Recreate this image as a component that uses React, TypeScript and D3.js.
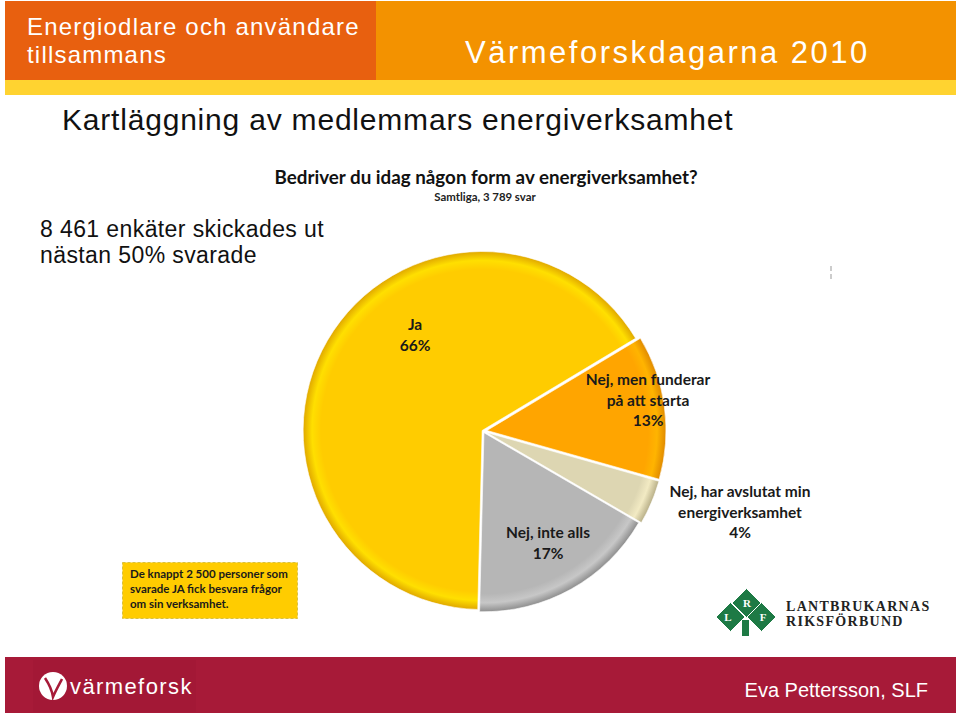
import React from "react";
import * as d3 from "d3";

const categories = ["Ja", "Nej, men funderar på att starta", "Nej, har avslutat min energiverksamhet", "Nej, inte alls"];
const values = [66, 13, 4, 17];
const labelLines = [["Ja", "66%"], ["Nej, men funderar", "på att starta", "13%"], ["Nej, har avslutat min", "energiverksamhet", "4%"], ["Nej, inte alls", "17%"]];
const sliceColors = ["#FFCC00", "#FFA500", "#DDD6B2", "#B6B6B6"];
const rimColors = ["#E0A800", "#E08A00", "#B8AF88", "#8E8E8E"];

const W = 960, H = 716;
const cx = 483, cy = 431, R = 179;
const explode = [1, 4, 4, 2];
const labelOffsets: [number, number][] = [[-68, -101], [165, -46], [257, 66], [65, 107]];

export default function App() {
  const pie = d3.pie<number>().sort(null).startAngle((-178.6 * Math.PI) / 180).endAngle((181.4 * Math.PI) / 180);
  const arcs = pie(values);
  const arc = d3.arc<d3.PieArcDatum<number>>().innerRadius(0).outerRadius(R);
  const calibri = "Lato, 'Open Sans', sans-serif";
  const arial = "'Liberation Sans', Arial, sans-serif";
  const serif = "'Liberation Serif', serif";
  const diamond = (x: number, y: number, h: number) => `M${x},${y - h} L${x + h},${y} L${x},${y + h} L${x - h},${y} Z`;
  return (
    <svg width={W} height={H} viewBox={`0 0 ${W} ${H}`} style={{ position: "absolute", left: 0, top: 0, background: "#fff" }}>
      <defs>
        {sliceColors.map((c, i) => (
          <radialGradient key={i} id={`g${i}`} gradientUnits="userSpaceOnUse" cx={0} cy={0} r={R}>
            <stop offset="0" stopColor={c} />
            <stop offset="0.9" stopColor={c} />
            <stop offset="0.95" stopColor={d3.color(c)!.brighter(0.25).toString()} />
            <stop offset="1" stopColor={rimColors[i]} />
          </radialGradient>
        ))}
      </defs>
      {/* header */}
      <rect x={5} y={1} width={371} height={79} fill="#E8600F" />
      <rect x={376} y={1} width={580} height={79} fill="#F39200" />
      <rect x={5} y={80} width={951} height={15} fill="#FFD330" />
      <text x={27} y={35} fill="#fff" fontFamily={arial} fontSize={24} letterSpacing={1.2}>Energiodlare och användare</text>
      <text x={27} y={63} fill="#fff" fontFamily={arial} fontSize={24} letterSpacing={1.2}>tillsammans</text>
      <text x={465} y={63} fill="#fff" fontFamily={arial} fontSize={31} letterSpacing={2.5}>Värmeforskdagarna 2010</text>
      {/* titles */}
      <text x={62} y={130} fill="#111" fontFamily={arial} fontSize={30} letterSpacing={0.8}>Kartläggning av medlemmars energiverksamhet</text>
      <text x={40} y={237} fill="#111" fontFamily={arial} fontSize={23} letterSpacing={0.4}>8 461 enkäter skickades ut</text>
      <text x={40} y={263} fill="#111" fontFamily={arial} fontSize={23} letterSpacing={0.4}>nästan 50% svarade</text>
      <text x={486} y={184} textAnchor="middle" fill="#111" fontFamily={calibri} fontWeight={700} fontSize={18.8}>Bedriver du idag någon form av energiverksamhet?</text>
      <text x={485} y={201} textAnchor="middle" fill="#222" fontFamily={calibri} fontWeight={700} fontSize={11.4}>Samtliga, 3 789 svar</text>
      {/* tiny artefact marks */}
      <line x1={831} y1={266} x2={831} y2={271} stroke="#999" strokeWidth={1} />
      <line x1={831} y1={274} x2={831} y2={279} stroke="#999" strokeWidth={1} />
      {/* pie */}
      <g transform={`translate(${cx},${cy})`}>
        {arcs.map((a, i) => {
          const mid = (a.startAngle + a.endAngle) / 2;
          const dx = Math.sin(mid) * explode[i];
          const dy = -Math.cos(mid) * explode[i];
          return (
            <path key={categories[i]} d={arc(a) || ""} transform={`translate(${dx},${dy})`} fill={`url(#g${i})`} stroke="#ffffff" strokeOpacity={0.6} strokeWidth={1} />
          );
        })}
        {labelLines.map((lines, i) => (
          <text key={i} textAnchor="middle" fontFamily={calibri} fontWeight={700} fontSize={15.5} fill="#1a1a1a">
            {lines.map((l, j) => (
              <tspan key={j} x={labelOffsets[i][0]} y={labelOffsets[i][1] + j * 20.5}>{l}</tspan>
            ))}
          </text>
        ))}
      </g>
      {/* note box */}
      <rect x={122.5} y={562.5} width={175} height={56} fill="#FFCC00" stroke="#D8C040" strokeWidth={1} strokeDasharray="3 2" />
      <text fontFamily={calibri} fontWeight={700} fontSize={11.5} fill="#1a1a1a">
        <tspan x={130} y={578}>De knappt  2 500 personer som</tspan>
        <tspan x={130} y={593}>svarade JA fick besvara frågor</tspan>
        <tspan x={130} y={608}>om sin verksamhet.</tspan>
      </text>
      {/* LRF logo */}
      <g fill="#1E7A45" stroke="#fff" strokeWidth={1}>
        <rect x={742} y={620} width={7} height={16} stroke="none" />
        <path d={diamond(730.5, 617, 14.5)} />
        <path d={diamond(761.5, 617, 14.5)} />
        <path d={diamond(746.5, 603, 14.5)} />
      </g>
      <g fill="#fff" fontFamily={serif} fontWeight={700} fontSize={11} textAnchor="middle">
        <text x={728} y={621}>L</text>
        <text x={747} y={607}>R</text>
        <text x={763} y={621}>F</text>
      </g>
      <text x={786} y={611} fill="#222" fontFamily={serif} fontWeight={700} fontSize={14} letterSpacing={1.3}>LANTBRUKARNAS</text>
      <text x={786} y={626} fill="#222" fontFamily={serif} fontWeight={700} fontSize={14} letterSpacing={1.3}>RIKSFÖRBUND</text>
      {/* footer */}
      <rect x={5} y={657} width={951} height={56} fill="#A71A38" />
      <rect x={33} y={660} width={163} height={52} fill="#A31836" />
      <circle cx={53} cy={686} r={14} fill="#fff" />
      <path d="M45,678 C49,684 52,690 53,697 C56,690 60,683 62,679" fill="none" stroke="#A71A38" strokeWidth={2.5} />
      <text x={70} y={694} fill="#fff" fontFamily={arial} fontSize={22} letterSpacing={1.4}>värmeforsk</text>
      <text x={928} y={697} textAnchor="end" fill="#fff" fontFamily={arial} fontSize={20}>Eva Pettersson, SLF</text>
    </svg>
  );
}
